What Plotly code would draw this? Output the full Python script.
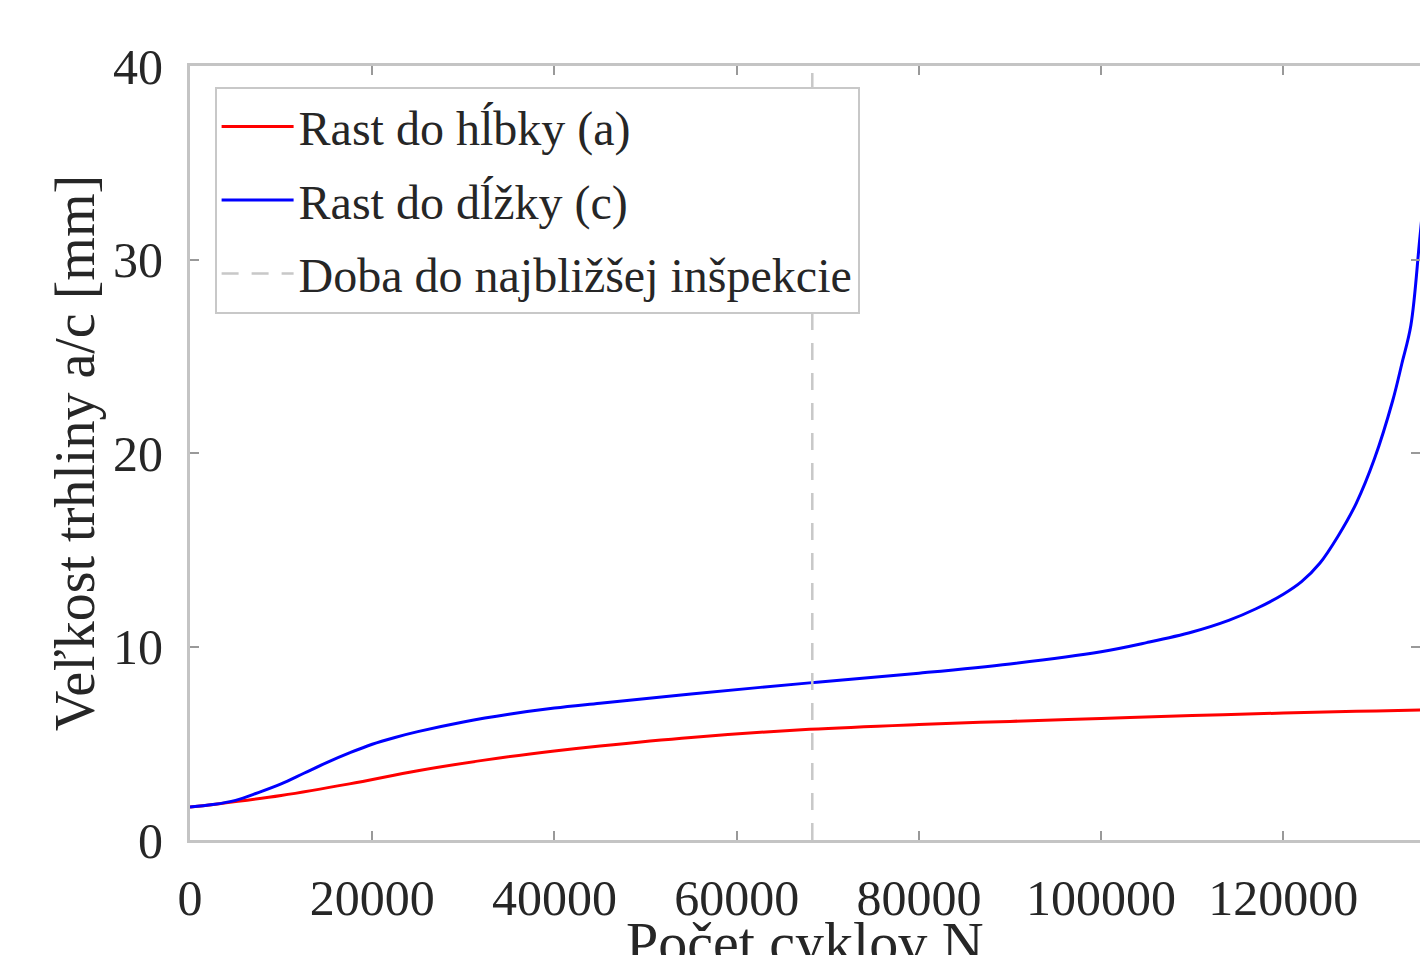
import plotly.graph_objects as go

# Data
N_a = [0, 3000, 10000, 17500, 25000, 32500, 40000, 45000, 55000, 68000, 80000, 90000, 100000, 110000, 120000, 128000, 135000, 137000]
a_vals = [1.7, 1.86, 2.3, 2.9, 3.58, 4.14, 4.6, 4.86, 5.3, 5.72, 5.97, 6.13, 6.28, 6.43, 6.56, 6.65, 6.72, 6.74]

N_c = [0, 2500, 5000, 7500, 10000, 12500, 15000, 17500, 20000, 22500, 25000, 30000, 35000, 40000, 45000,
       55000, 68000, 80000, 90000, 100000, 105000, 110000, 114000, 117000, 120000, 122000, 124000, 126000,
       128000, 130000, 132000, 133000, 134000, 135000, 136000]
c_vals = [1.7, 1.83, 2.05, 2.45, 2.9, 3.45, 4.0, 4.5, 4.95, 5.3, 5.6, 6.1, 6.5, 6.82, 7.07,
          7.55, 8.12, 8.62, 9.1, 9.73, 10.2, 10.75, 11.35, 11.95, 12.7, 13.35, 14.3, 15.7,
          17.4, 19.7, 22.7, 24.6, 26.6, 31.2, 36.0]

N_insp = [68300, 68300]
insp_y = [0, 40]

x_ticks = [0, 20000, 40000, 60000, 80000, 100000, 120000]
y_ticks = [0, 10, 20, 30, 40]

labels = ["Rast do hĺbky (a)", "Rast do dĺžky (c)", "Doba do najbližšej inšpekcie"]
x_title = "Počet cyklov N"
y_title = "Veľkost trhliny a/c [mm]"

FONT = "Liberation Serif, Times New Roman, serif"
TXT = "#262626"
AX = "#c4c4c4"

fig = go.Figure()
fig.add_trace(go.Scatter(x=N_a, y=a_vals, mode="lines", name=labels[0], legendgroup="a",
                         line=dict(color="#ff0000", width=3, shape="spline", smoothing=1.0)))
fig.add_trace(go.Scatter(x=N_c, y=c_vals, mode="lines", name=labels[1], legendgroup="c",
                         line=dict(color="#0000ff", width=3, shape="spline", smoothing=1.0)))
fig.add_trace(go.Scatter(x=N_insp, y=insp_y, mode="lines", name=labels[2], legendgroup="i",
                         line=dict(color="#c8c8c8", width=2.5, dash="17px,13px")))

fig.update_layout(
    width=1420, height=955,
    margin=dict(l=190, r=0, t=66, b=115),
    paper_bgcolor="white", plot_bgcolor="white",
    font=dict(family=FONT, color=TXT, size=48),
    showlegend=True,
    legend=dict(x=0.02, y=0.973, xanchor="left", yanchor="top",
                bgcolor="white", bordercolor="#c8c8c8", borderwidth=2,
                font=dict(family=FONT, size=48, color=TXT),
                itemwidth=72, traceorder="grouped", tracegroupgap=8),
    annotations=[dict(text=x_title, xref="paper", yref="paper", x=0.5, y=-0.088,
                      xanchor="center", yanchor="top", showarrow=False,
                      font=dict(family=FONT, size=58, color=TXT))],
)
fig.update_xaxes(
    range=[0, 135000], tickvals=x_ticks, tickformat="d", automargin=False,
    showgrid=False, zeroline=False,
    showline=True, linecolor=AX, linewidth=3, mirror="ticks",
    ticks="inside", ticklen=9, tickwidth=2, tickcolor="#999999",
    tickfont=dict(family=FONT, size=50, color=TXT), ticklabelstandoff=12,
)
fig.update_yaxes(
    range=[0, 40], tickvals=y_ticks, automargin=False,
    showgrid=False, zeroline=False,
    showline=True, linecolor=AX, linewidth=3, mirror="ticks",
    ticks="inside", ticklen=9, tickwidth=2, tickcolor="#999999",
    tickfont=dict(family=FONT, size=50, color=TXT), ticklabelstandoff=14,
    title=dict(text=y_title, font=dict(family=FONT, size=56, color=TXT), standoff=1),
)

fig.write_html("out.html")
